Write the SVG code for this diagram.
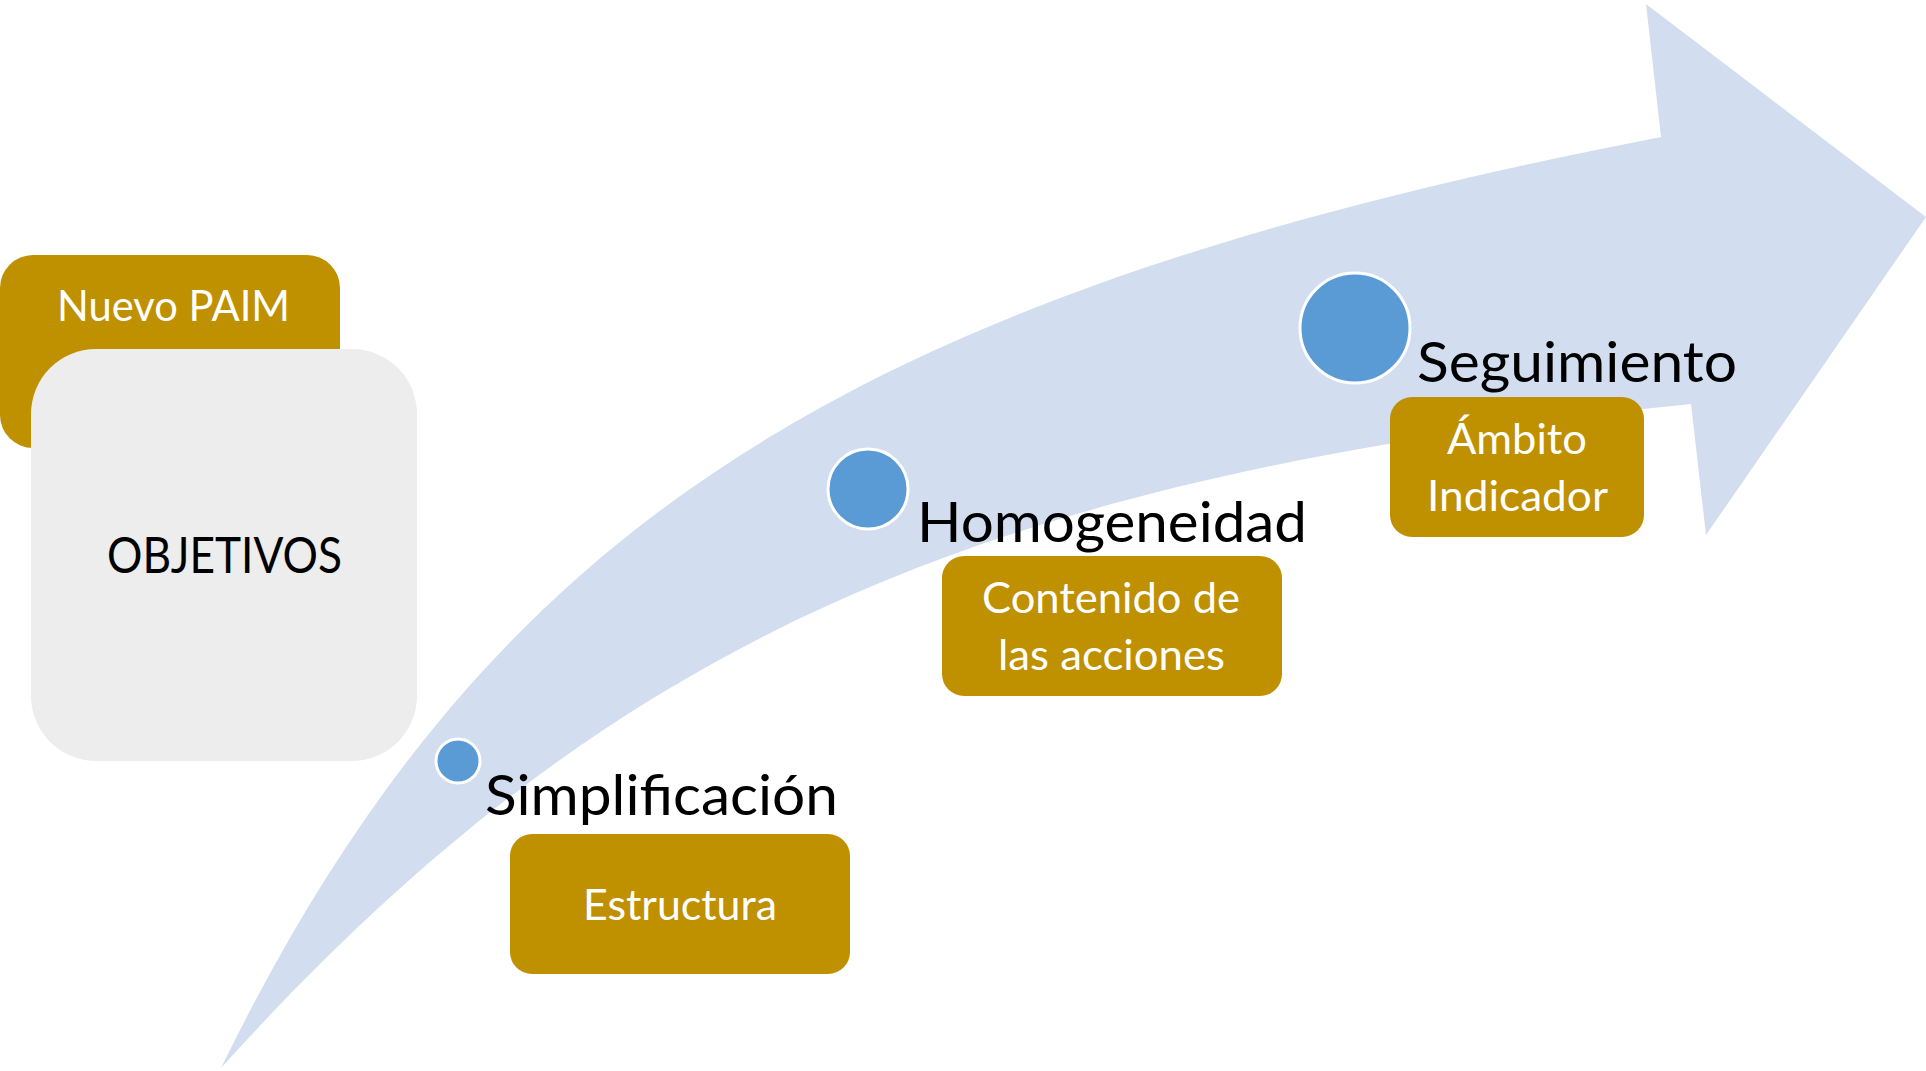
<svg xmlns="http://www.w3.org/2000/svg" width="1926" height="1071" viewBox="0 0 1926 1071">
<defs>
<style>
.arrow{fill:#D2DEEF;}
.gold{fill:#BF9000;}
.gray{fill:#EDEDED;}
.dot{fill:#5B9BD5;stroke:#FFFFFF;stroke-width:3;}
.lbl{font-family:Lato,"Open Sans","Liberation Sans",sans-serif;fill:#000000;}
.wt{font-family:Lato,"Open Sans","Liberation Sans",sans-serif;fill:#FFFFFF;text-anchor:middle;}
</style>
</defs>
<rect x="0" y="0" width="1926" height="1071" fill="#FFFFFF"/>
<g id="connectors">
<path class="arrow" d="M 221 1068 C 485 528, 845 295, 1661 137 L 1646 4 L 1926 217 L 1706 535 L 1691 404 C 973 477, 606 643, 221 1068 Z"/>
</g>
<g id="node-nuevo-paim">
<rect class="gold" x="0" y="255" width="340" height="193" rx="33" ry="33"/>
<text class="wt" x="173.5" y="321" font-size="42" textLength="233" lengthAdjust="spacingAndGlyphs">Nuevo PAIM</text>
</g>
<g id="node-objetivos">
<rect class="gray" x="31" y="349" width="386" height="412" rx="65" ry="65"/>
<text class="lbl" x="224.5" y="573" font-size="50" text-anchor="middle" textLength="235" lengthAdjust="spacingAndGlyphs">OBJETIVOS</text>
</g>
<g id="node-simplificacion">
<circle class="dot" cx="458" cy="761" r="22"/>
<text class="lbl" x="485" y="815" font-size="56" textLength="353" lengthAdjust="spacingAndGlyphs">Simplificación</text>
</g>
<g id="node-estructura">
<rect class="gold" x="510" y="834" width="340" height="140" rx="22" ry="22"/>
<text class="wt" x="680" y="920" font-size="42" textLength="194" lengthAdjust="spacingAndGlyphs">Estructura</text>
</g>
<g id="node-homogeneidad">
<circle class="dot" cx="868" cy="489" r="40"/>
<text class="lbl" x="917" y="542" font-size="56" textLength="390" lengthAdjust="spacingAndGlyphs">Homogeneidad</text>
</g>
<g id="node-contenido">
<rect class="gold" x="942" y="556" width="340" height="140" rx="22" ry="22"/>
<text class="wt" x="1111" y="613" font-size="42" textLength="258" lengthAdjust="spacingAndGlyphs">Contenido de</text>
<text class="wt" x="1111.5" y="670" font-size="42" textLength="227" lengthAdjust="spacingAndGlyphs">las acciones</text>
</g>
<g id="node-seguimiento">
<circle class="dot" cx="1355" cy="328" r="55"/>
<text class="lbl" x="1417" y="382" font-size="56" textLength="320" lengthAdjust="spacingAndGlyphs">Seguimiento</text>
</g>
<g id="node-ambito">
<rect class="gold" x="1390" y="397" width="254" height="140" rx="22" ry="22"/>
<text class="wt" x="1517" y="454" font-size="42" textLength="140" lengthAdjust="spacingAndGlyphs">Ámbito</text>
<text class="wt" x="1517.5" y="511" font-size="42" textLength="181" lengthAdjust="spacingAndGlyphs">Indicador</text>
</g>
</svg>
